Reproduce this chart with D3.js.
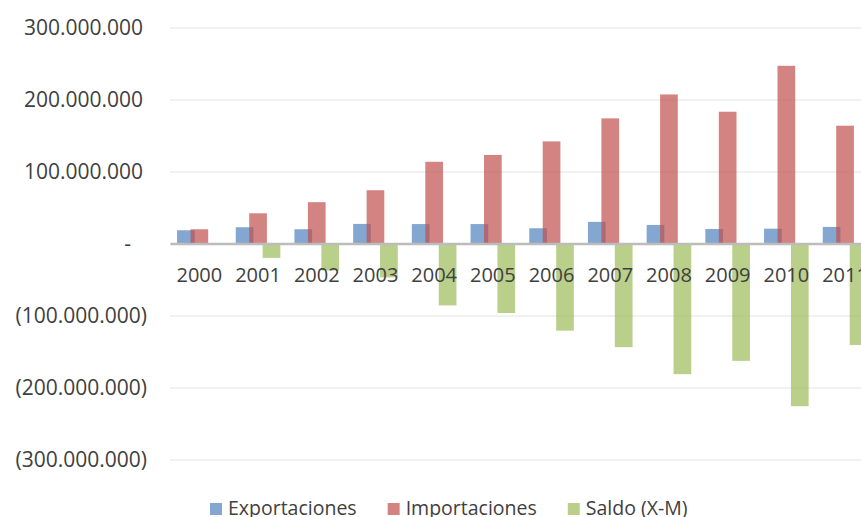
<!DOCTYPE html>
<html>
<head>
<meta charset="utf-8">
<script src="https://cdn.jsdelivr.net/npm/d3@7"></script>
<style>
  body { margin: 0; background: #fff; }
  svg { display: block; font-family: "Open Sans", sans-serif; }
</style>
</head>
<body>
<div id="chart"></div>
<script>
// data
var years = ["2000", "2001", "2002", "2003", "2004", "2005", "2006", "2007", "2008", "2009", "2010", "2011"];
var exportaciones = [18.4e6, 22.6e6, 19.8e6, 27.2e6, 27e6, 27e6, 21.2e6, 30e6, 25.8e6, 20.2e6, 20.6e6, 23e6];
var importaciones = [19.8e6, 42e6, 57.4e6, 74e6, 113.5e6, 123e6, 141.8e6, 173.8e6, 207e6, 183e6, 246.8e6, 163.6e6];
var saldo = [-1.4e6, -20e6, -37.5e6, -47e6, -86e6, -96.5e6, -121e6, -144e6, -181.5e6, -163e6, -226e6, -141e6];
var seriesNames = ["Exportaciones", "Importaciones", "Saldo (X-M)"];
var yTicks = [-300e6, -200e6, -100e6, 0, 100e6, 200e6, 300e6];

var colors = ["#4F81BD", "#C0504D", "#9BBB59"];

var svgWidth = 861;
var svgHeight = 517;

var svg = d3.select("#chart")
  .append("svg")
  .attr("width", svgWidth)
  .attr("height", svgHeight);

// plot runs past the right edge, like the original crop
var x = d3.scaleBand()
  .domain(years)
  .range([170, 170 + 58.7 * years.length]);

var y = d3.scaleLinear()
  .domain([-300e6, 300e6])
  .range([459.5, 27.5]);

var barW = x.bandwidth() * 0.3015;
var offset = d3.scalePoint()
  .domain(seriesNames)
  .range([-barW * 0.76, barW * 0.76]);

var locale = d3.formatLocale({ decimal: ",", thousands: ".", grouping: [3], currency: ["", ""] });
var fmt = locale.format(",.0f");

function label(d) {
  if (d === 0) return "-";
  if (d < 0) return "(" + fmt(-d) + ")";
  return fmt(d);
}

// gridlines + y labels
var yAxis = svg.append("g")
  .attr("transform", "translate(170,0)")
  .call(d3.axisLeft(y).tickValues(yTicks).tickSize(-(svgWidth - 170 + 20)).tickFormat(label))
  .attr("font-family", null)
  .attr("font-size", null);

yAxis.select(".domain").remove();
yAxis.selectAll(".tick line")
  .attr("stroke", "#ececec")
  .attr("stroke-width", 1.5);
yAxis.selectAll(".tick text")
  .attr("fill", "#404040")
  .style("font-size", "21px")
  .attr("x", d => d === 0 ? -39 : (d < 0 ? -23 : -27));

// bars
var series = [exportaciones, importaciones, saldo];
series.forEach(function(vals, i) {
  svg.append("g")
    .selectAll("rect")
    .data(vals)
    .enter()
    .append("rect")
    .attr("x", (d, j) => x(years[j]) + x.bandwidth() / 2 + offset(seriesNames[i]) - barW / 2)
    .attr("y", d => y(Math.max(d, 0)))
    .attr("width", barW)
    .attr("height", d => Math.abs(y(d) - y(0)))
    .attr("fill", colors[i])
    .attr("fill-opacity", 0.7);
});

// category axis along zero
var xAxis = svg.append("g")
  .attr("transform", `translate(0, ${y(0)})`)
  .call(d3.axisBottom(x).tickSize(0).tickSizeOuter(0))
  .attr("font-family", null)
  .attr("font-size", null);

xAxis.select(".domain")
  .attr("stroke", "#bcbcbc")
  .attr("stroke-width", 2.5);
xAxis.selectAll(".tick text")
  .attr("fill", "#404040")
  .style("font-size", "20px")
  .attr("y", 38)
  .attr("dy", 0);

// legend
var legend = svg.append("g");
var lx = 210;
seriesNames.forEach(function(name, i) {
  legend.append("rect")
    .attr("x", lx)
    .attr("y", 503)
    .attr("width", 12)
    .attr("height", 12)
    .attr("fill", colors[i])
    .attr("fill-opacity", 0.7);
  var t = legend.append("text")
    .attr("x", lx + 18)
    .attr("y", 515)
    .attr("fill", "#404040")
    .style("font-size", "19.5px")
    .text(name);
  lx += 18 + t.node().getComputedTextLength() + 31;
});
</script>
</body>
</html>
